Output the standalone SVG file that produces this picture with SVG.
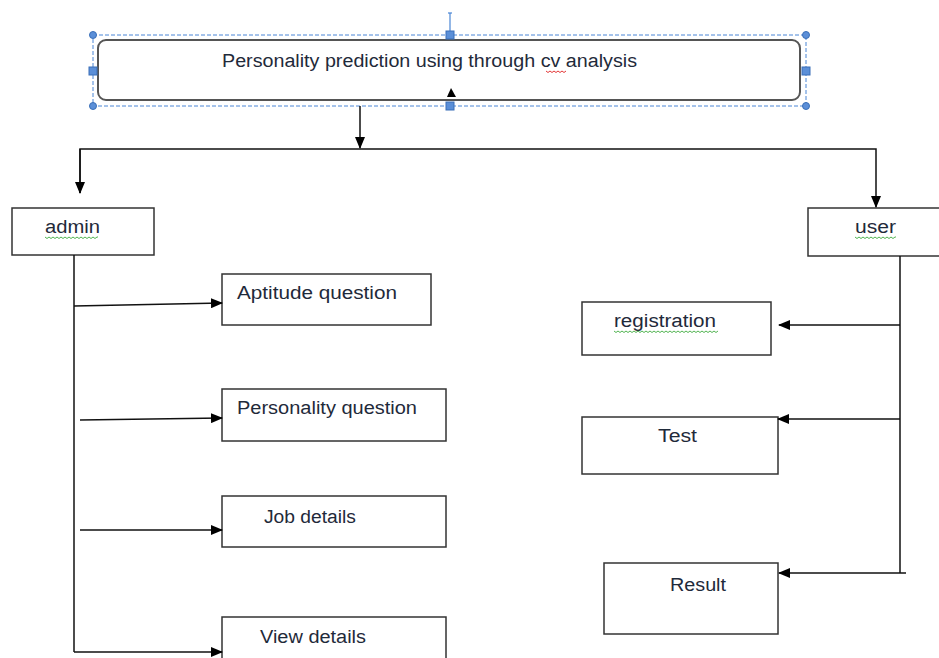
<svg xmlns="http://www.w3.org/2000/svg" width="939" height="658" viewBox="0 0 939 658">
<style>
.box{fill:#fff;stroke:#333;stroke-width:1.5}
.t{font-family:"Liberation Sans",Arial,sans-serif;font-size:18px;fill:#1f2a3a}
.ln{fill:none;stroke:#111;stroke-width:1.5}
.sel{fill:none;stroke:#4a86d6;stroke-width:1;stroke-dasharray:4 2}
.hc{fill:#5b8fd8;stroke:#3a6fb8;stroke-width:1}
.wg{fill:none;stroke:#3caa3c;stroke-width:0.9}
.wr{fill:none;stroke:#e02020;stroke-width:0.9}
</style>
<defs>
<marker id="ah" markerWidth="12" markerHeight="10" refX="11" refY="5" orient="auto" markerUnits="userSpaceOnUse">
<path d="M0,0 L12,5 L0,10 Z" fill="#000"/>
</marker>
</defs>

<g id="title">
<rect x="98" y="40" width="702" height="60" rx="8" ry="8" fill="#fff" stroke="#555" stroke-width="2"/>
<text class="t" x="222" y="67" textLength="415" lengthAdjust="spacingAndGlyphs">Personality prediction using through cv analysis</text>
<path class="wr" d="M546,71 l2,1.5 l2,-1.5 l2,1.5 l2,-1.5 l2,1.5 l2,-1.5 l2,1.5 l2,-1.5 l2,1.5 l2,-1.5"/>
<polygon points="447,97 451,88 456,97" fill="#000"/>
</g>

<g id="selection">
<rect class="sel" x="93" y="35" width="713" height="71"/>
<line x1="450" y1="13" x2="450" y2="35" stroke="#4a86d6" stroke-width="1.2"/>
<line x1="448" y1="13" x2="452" y2="13" stroke="#4a86d6" stroke-width="1.2"/>
<circle class="hc" cx="93" cy="35" r="3.5"/>
<circle class="hc" cx="806" cy="35" r="3.5"/>
<circle class="hc" cx="93" cy="106" r="3.5"/>
<circle class="hc" cx="806" cy="106" r="3.5"/>
<rect class="hc" x="446" y="31" width="8" height="8"/>
<rect class="hc" x="446" y="102" width="8" height="8"/>
<rect class="hc" x="89" y="67" width="8" height="8"/>
<rect class="hc" x="802" y="67" width="8" height="8"/>
</g>

<g id="admin">
<rect class="box" x="12" y="208" width="142" height="47"/>
<text class="t" x="45" y="233" textLength="55" lengthAdjust="spacingAndGlyphs">admin</text>
<path class="wg" d="M45,237 l2,1.5 l2,-1.5 l2,1.5 l2,-1.5 l2,1.5 l2,-1.5 l2,1.5 l2,-1.5 l2,1.5 l2,-1.5 l2,1.5 l2,-1.5 l2,1.5 l2,-1.5 l2,1.5 l2,-1.5 l2,1.5 l2,-1.5 l2,1.5 l2,-1.5 l2,1.5 l2,-1.5 l2,1.5 l2,-1.5 l2,1.5 l2,-1.5 l1,0"/>
</g>

<g id="user">
<rect class="box" x="808" y="208" width="140" height="48"/>
<text class="t" x="855" y="233" textLength="41" lengthAdjust="spacingAndGlyphs">user</text>
<path class="wg" d="M855,237 l2,1.5 l2,-1.5 l2,1.5 l2,-1.5 l2,1.5 l2,-1.5 l2,1.5 l2,-1.5 l2,1.5 l2,-1.5 l2,1.5 l2,-1.5 l2,1.5 l2,-1.5 l2,1.5 l2,-1.5 l2,1.5 l2,-1.5 l2,1.5 l2,-1.5 l1,0"/>
</g>

<g id="aptitude">
<rect class="box" x="222" y="274" width="209" height="51"/>
<text class="t" x="237" y="299" textLength="160" lengthAdjust="spacingAndGlyphs">Aptitude question</text>
</g>

<g id="personality">
<rect class="box" x="222" y="389" width="224" height="52"/>
<text class="t" x="237" y="414" textLength="180" lengthAdjust="spacingAndGlyphs">Personality question</text>
</g>

<g id="job">
<rect class="box" x="222" y="496" width="224" height="51"/>
<text class="t" x="264" y="523" textLength="92" lengthAdjust="spacingAndGlyphs">Job details</text>
</g>

<g id="view">
<rect class="box" x="222" y="617" width="224" height="60"/>
<text class="t" x="260" y="643" textLength="106" lengthAdjust="spacingAndGlyphs">View details</text>
</g>

<g id="registration">
<rect class="box" x="582" y="302" width="189" height="53"/>
<text class="t" x="614" y="327" textLength="102" lengthAdjust="spacingAndGlyphs">registration</text>
<path class="wg" d="M614,331 l2,1.5 l2,-1.5 l2,1.5 l2,-1.5 l2,1.5 l2,-1.5 l2,1.5 l2,-1.5 l2,1.5 l2,-1.5 l2,1.5 l2,-1.5 l2,1.5 l2,-1.5 l2,1.5 l2,-1.5 l2,1.5 l2,-1.5 l2,1.5 l2,-1.5 l2,1.5 l2,-1.5 l2,1.5 l2,-1.5 l2,1.5 l2,-1.5 l2,1.5 l2,-1.5 l2,1.5 l2,-1.5 l2,1.5 l2,-1.5 l2,1.5 l2,-1.5 l2,1.5 l2,-1.5 l2,1.5 l2,-1.5 l2,1.5 l2,-1.5 l2,1.5 l2,-1.5 l2,1.5 l2,-1.5 l2,1.5 l2,-1.5 l2,1.5 l2,-1.5 l2,1.5 l2,-1.5 l2,1.5 l2,-1.5"/>
</g>

<g id="test">
<rect class="box" x="582" y="417" width="196" height="57"/>
<text class="t" x="658" y="442" textLength="39" lengthAdjust="spacingAndGlyphs">Test</text>
</g>

<g id="result">
<rect class="box" x="604" y="563" width="174" height="71"/>
<text class="t" x="670" y="591" textLength="56" lengthAdjust="spacingAndGlyphs">Result</text>
</g>

<g id="connectors">
<line class="ln" x1="360" y1="106" x2="360" y2="148" marker-end="url(#ah)"/>
<polyline class="ln" points="80,193 80,149 876,149 876,207" marker-end="url(#ah)"/>
<line class="ln" x1="80" y1="149" x2="80" y2="193" marker-end="url(#ah)"/>
<line class="ln" x1="74" y1="255" x2="74" y2="652"/>
<line class="ln" x1="74" y1="652" x2="222" y2="652" marker-end="url(#ah)"/>
<line class="ln" x1="74" y1="306" x2="222" y2="303" marker-end="url(#ah)"/>
<line class="ln" x1="80" y1="420" x2="222" y2="418" marker-end="url(#ah)"/>
<line class="ln" x1="80" y1="530" x2="222" y2="530" marker-end="url(#ah)"/>
<line class="ln" x1="900" y1="256" x2="900" y2="573"/>
<line class="ln" x1="900" y1="325" x2="779" y2="325" marker-end="url(#ah)"/>
<line class="ln" x1="900" y1="419" x2="778" y2="419" marker-end="url(#ah)"/>
<line class="ln" x1="906" y1="573" x2="779" y2="573" marker-end="url(#ah)"/>
</g>
</svg>
